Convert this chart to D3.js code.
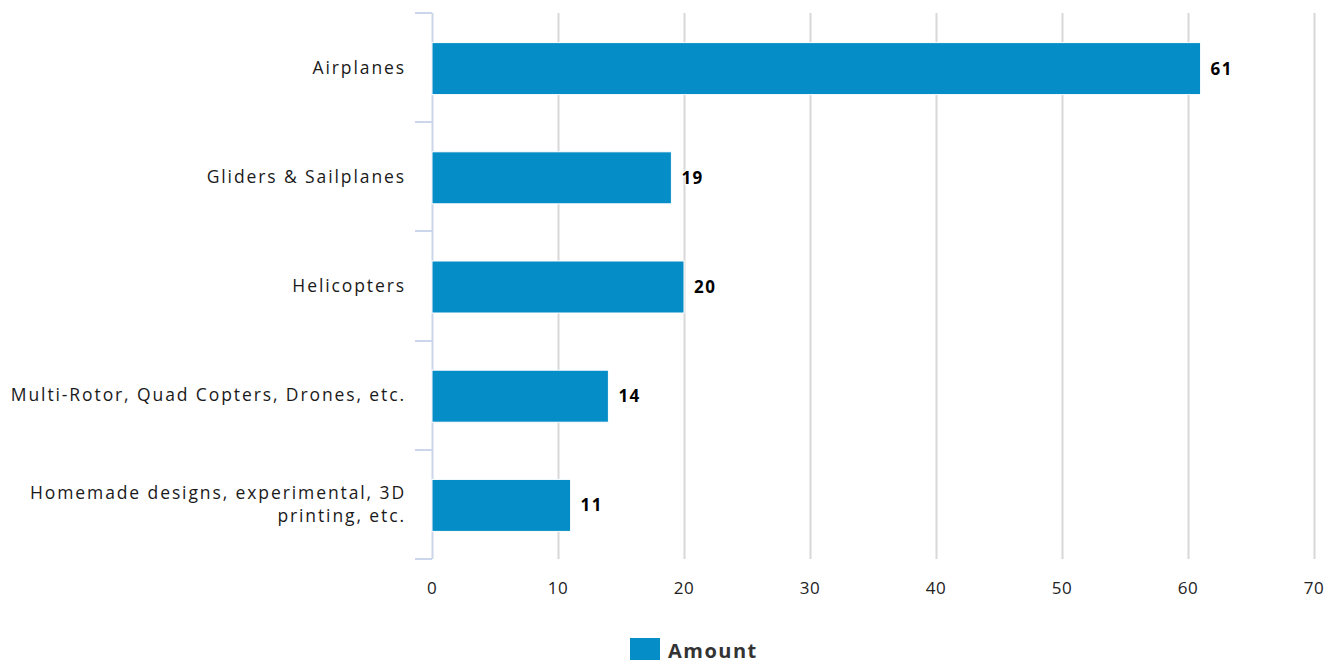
<!DOCTYPE html>
<html><head><meta charset="utf-8">
<script src="https://cdn.jsdelivr.net/npm/d3@7"></script>
<style>
body{margin:0;background:#fff;}
text{font-family:"Open Sans",sans-serif;}
</style></head>
<body><svg id="chart" width="1337" height="664"></svg>
<script>
const categories = ["Airplanes","Gliders & Sailplanes","Helicopters","Multi-Rotor, Quad Copters, Drones, etc.","Homemade designs, experimental, 3D printing, etc."];
const categoryLines = [["Airplanes"],["Gliders & Sailplanes"],["Helicopters"],["Multi-Rotor, Quad Copters, Drones, etc."],["Homemade designs, experimental, 3D","printing, etc."]];
const values = [61,19,20,14,11];
const xTicks = [0,10,20,30,40,50,60,70];
const seriesName = "Amount";

const svg = d3.select("#chart");
const m = {left:432, top:13, right:1314, bottom:559};
const x = d3.scaleLinear().domain([0,70]).range([m.left, m.right]);
const y = d3.scaleBand().domain(categories).range([m.top, m.bottom]).paddingInner(0).paddingOuter(0);
const color = "#058dc7";

// gridlines
svg.append("g").selectAll("line").data(xTicks.filter(d=>d>0)).join("line")
  .attr("x1",d=>Math.round(x(d))+0.5).attr("x2",d=>Math.round(x(d))+0.5)
  .attr("y1",m.top).attr("y2",m.bottom)
  .attr("stroke","#d8d8d8").attr("stroke-width",2);

// x tick labels
svg.append("g").selectAll("text").data(xTicks).join("text")
  .attr("x",d=>x(d)).attr("y",594).attr("text-anchor","middle")
  .attr("font-size",17).attr("fill","#222").attr("letter-spacing",0.5).text(d=>d);

// y axis line and ticks
const axisColor = "#ccd6eb";
svg.append("line").attr("x1",m.left+0.5).attr("x2",m.left+0.5).attr("y1",m.top).attr("y2",m.bottom)
  .attr("stroke",axisColor).attr("stroke-width",2);
const bounds = categories.map(c=>y(c)).concat([m.bottom]);
svg.append("g").selectAll("line").data(bounds).join("line")
  .attr("x1",415).attr("x2",m.left).attr("y1",d=>Math.round(d)).attr("y2",d=>Math.round(d))
  .attr("stroke",axisColor).attr("stroke-width",2);

// category labels
const lab = svg.append("g").selectAll("text").data(categories).join("text")
  .attr("text-anchor","end").attr("font-size",17.5).attr("fill","#1a1a1a").attr("letter-spacing",1.9);
lab.each(function(c,i){
  const lines = categoryLines[i];
  const lh = 23;
  const cy = y(c)+y.bandwidth()/2;
  const y0 = cy - (lines.length-1)*lh/2 + 6;
  lines.forEach((t,j)=>{
    d3.select(this).append("tspan").attr("x",406).attr("y",y0+j*lh).text(t);
  });
});

// bars
const bh = 52;
svg.append("g").selectAll("rect").data(values).join("rect")
  .attr("x",x(0)).attr("y",(d,i)=>y(categories[i])+y.bandwidth()/2-bh/2+1)
  .attr("width",d=>x(d)-x(0)).attr("height",bh)
  .attr("fill",color).attr("stroke","#fff").attr("stroke-width",1);

// value labels
svg.append("g").selectAll("text").data(values).join("text")
  .attr("x",d=>x(d)+10).attr("y",(d,i)=>y(categories[i])+y.bandwidth()/2+7)
  .attr("font-size",17).attr("font-weight","bold").attr("fill","#000")
  .attr("stroke","#fff").attr("stroke-width",2).attr("paint-order","stroke")
  .attr("letter-spacing",1.5)
  .text(d=>d);

// legend
svg.append("rect").attr("x",630).attr("y",638).attr("width",30).attr("height",22).attr("fill",color);
svg.append("text").attr("x",668).attr("y",658).attr("font-size",20).attr("font-weight","bold").attr("fill","#333").attr("letter-spacing",1.5).text(seriesName);
</script></body></html>
